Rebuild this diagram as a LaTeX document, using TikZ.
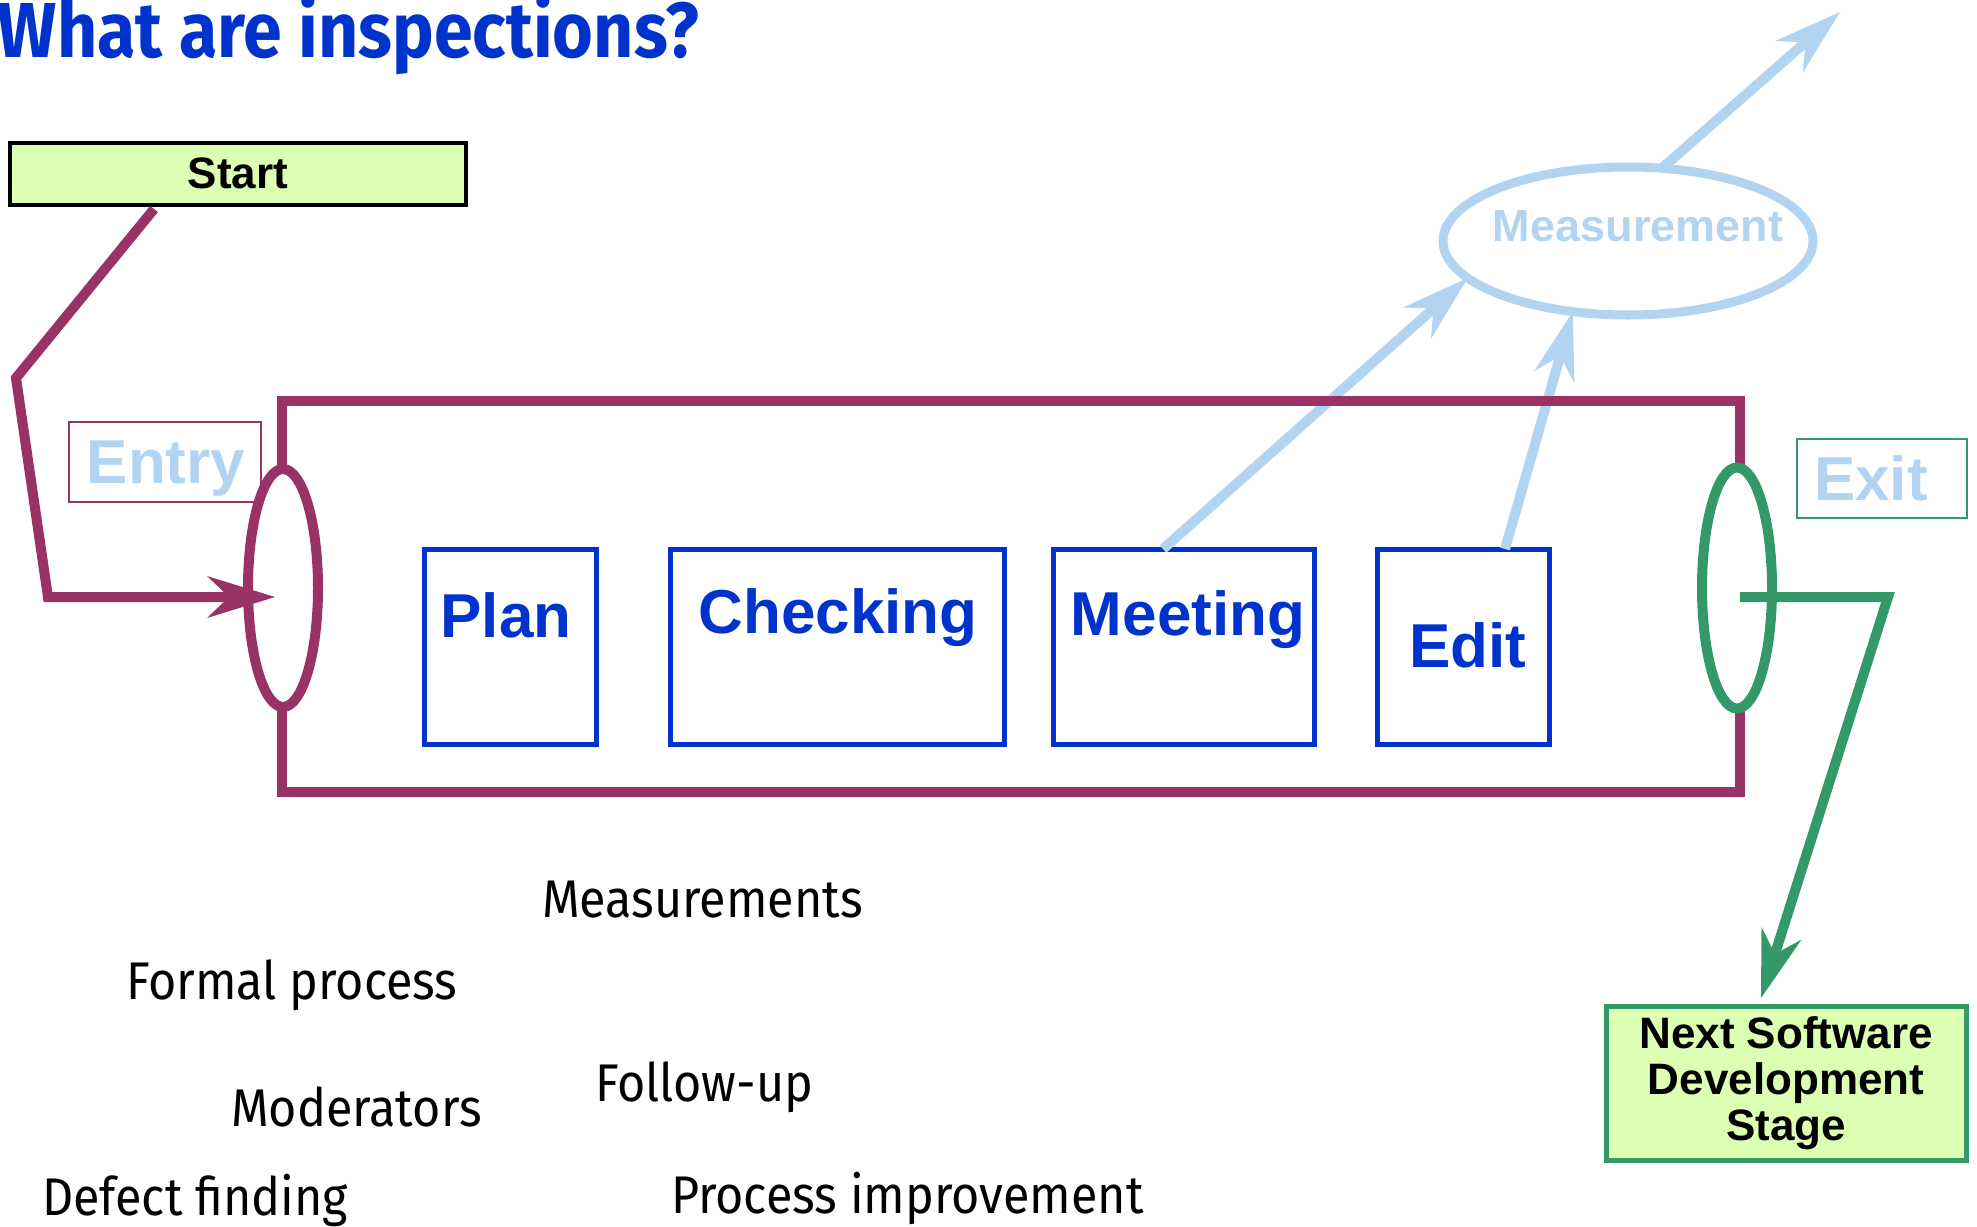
\documentclass[tikz,border=0pt]{standalone}
\usepackage{fontspec}
\setmainfont{Liberation Sans}
\newfontfamily\titlefont[FakeStretch=0.896]{Fira Sans}
\newfontfamily\condfont[FakeStretch=0.915]{Fira Sans}
\usetikzlibrary{arrows.meta,shapes.geometric}
\definecolor{mag}{HTML}{993366}
\definecolor{dblue}{HTML}{0033CC}
\definecolor{lblue}{HTML}{B2D4F0}
\definecolor{grn}{HTML}{339966}
\definecolor{pale}{HTML}{DCFFB4}
\begin{document}
\begin{tikzpicture}[x=1pt,y=-1pt,
  every node/.style={inner sep=0pt, outer sep=0pt},
  bigarrow/.style={-{Stealth[length=68pt,width=42pt,inset=22pt,line width=0pt]}},
  stagebox/.style={draw=dblue, line width=5pt, minimum height=195pt},
  stagetxt/.style={anchor=base, text=dblue, font=\bfseries\fontsize{62}{70}\selectfont},
  lbltxt/.style={text=lblue, font=\bfseries\fontsize{62}{70}\selectfont},
  greenbox/.style={fill=pale, minimum width=#1},
  blacktxt/.style={font=\bfseries\fontsize{44}{46}\selectfont, text=black},
  note/.style={anchor=base west, font=\condfont\fontsize{53}{60}\selectfont, text=black},
  ring/.style={ellipse, fill=white, line width=10pt},
  lbarrow/.style={lblue, line width=10pt, bigarrow}
]
\useasboundingbox (0,0) rectangle (1977,1226);

% title
\node[anchor=base west, text=dblue, font=\titlefont\bfseries\fontsize{78}{80}\selectfont] (title) at (-2,57) {What are inspections?};

% stage boxes
\node[stagebox, minimum width=172pt] (plan) at (510,646.5) {};
\node[stagebox, minimum width=334pt] (checking) at (837,646.5) {};
\node[stagebox, minimum width=261pt] (meeting) at (1183.5,646.5) {};
\node[stagebox, minimum width=172pt] (edit) at (1463,646.5) {};
\node[stagetxt] (plantxt) at (506,637) {Plan};
\node[stagetxt] (checkingtxt) at (838,633) {Checking};
\node[stagetxt] (meetingtxt) at (1188,635) {Meeting};
\node[stagetxt] (edittxt) at (1468,667) {Edit};

% measurement
\node[ellipse, draw=lblue, line width=9pt, minimum width=370pt, minimum height=148pt] (meas) at (1628,241) {};
\node[anchor=base, text=lblue, font=\bfseries\fontsize{45}{50}\selectfont] (meastxt) at (1638,241) {Measurement};
\draw[lbarrow] ([xshift=110pt]meeting.north west) -- (meas.193);
\draw[lbarrow] ([xshift=128pt]edit.north west) -- (meas.232);
\coordinate (mtop) at (1840,12);
\draw[lbarrow] (meas.65) -- (mtop);

% process frame
\node[draw=mag, line width=10pt, minimum width=1458pt, minimum height=391pt] (proc) at (1011,596.5) {};

% entry / exit
\node[ring, draw=mag, minimum width=70pt, minimum height=238pt] (entry) at (283,588) {};
\node[ring, draw=grn, minimum width=70pt, minimum height=241pt] (exit) at (1737,588) {};
\node[draw=mag, line width=2pt, minimum width=192pt, minimum height=80pt] (entrybox) at (165,462) {};
\node[lbltxt, anchor=base] (entrytxt) at (166,483) {Entry};
\node[draw=grn, line width=2pt, minimum width=170pt, minimum height=79pt] (exitbox) at (1882,478.5) {};
\node[lbltxt, anchor=base west] (exittxt) at (1814,500) {Exit};

% start
\node[draw=black, line width=4.5pt, greenbox=456pt, minimum height=62pt] (start) at (238,174) {};
\node[blacktxt, anchor=base] (starttxt) at (238,188) {Start};

% next stage
\node[draw=grn, line width=5pt, greenbox=360pt, minimum height=154pt] (nsds) at (1786,1083) {};
\node[blacktxt, align=center] (nsdstxt) at (1786,1083) {Next Software\\Development\\Stage};

% connectors
\coordinate (m1) at (16,378);
\coordinate (m2) at (48,597);
\draw[mag, line width=10pt, bigarrow] ([xshift=144pt,yshift=-4pt]start.south west) -- (m1) -- (m2) -- ([xshift=-8pt,yshift=-9pt]entry.center);
\coordinate (g1) at (1888,597);
\draw[grn, line width=10pt, bigarrow] ([xshift=3pt,yshift=-9pt]exit.center) -- (g1) -- ([xshift=-25pt,yshift=8pt]nsds.north);

% notes
\node[note] (n1) at (542,917) {Measurements};
\node[note] (n2) at (126,999) {Formal process};
\node[note] (n3) at (231,1126) {Moderators};
\node[note] (n4) at (595,1101) {Follow-up};
\node[note] (n5) at (42,1215) {Defect finding};
\node[note] (n6) at (671,1213) {Process improvement};
\end{tikzpicture}
\end{document}
